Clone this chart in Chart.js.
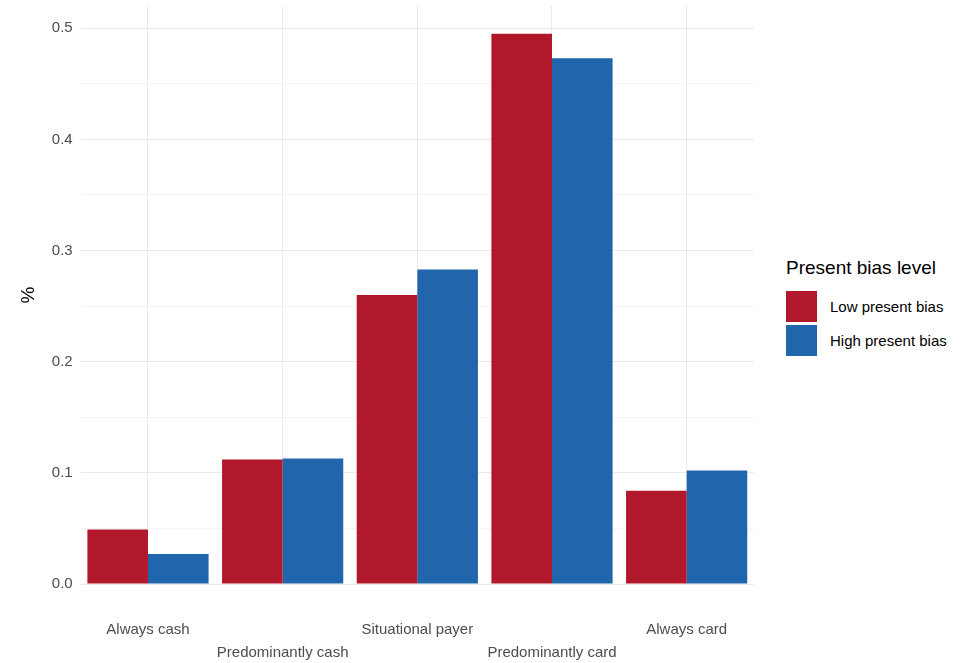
<!DOCTYPE html>
<html>
<head>
<meta charset="utf-8">
<script src="https://cdn.jsdelivr.net/npm/chart.js@4"></script>
<style>
  body { margin: 0; background: #fff; font-family: "Liberation Sans", Arial, sans-serif; overflow: hidden; }
  #wrap { position: relative; width: 961px; height: 663px; overflow: hidden; }
  #box { position: absolute; left: 0; top: -11px; width: 768px; height: 716px; }
  #legend { position: absolute; left: 786px; top: 257px; color: #000; }
  #legend h4 { margin: 0 0 10px 0; font-weight: normal; font-size: 19px; }
  .item { display: flex; align-items: center; height: 34px; font-size: 15px; }
  .sw { width: 31px; height: 31px; margin-right: 13px; }
</style>
</head>
<body>
<div id="wrap">
  <div id="box"><canvas id="c"></canvas></div>
  <div id="legend"></div>
</div>
<script>
// categories, staggered labels like ggplot's n.dodge = 2
const categories = ['Always cash', 'Predominantly cash', 'Situational payer', 'Predominantly card', 'Always card'];
const seriesNames = ['Low present bias', 'High present bias'];
const lowBias  = [0.049, 0.112, 0.260, 0.495, 0.084];
const highBias = [0.027, 0.113, 0.283, 0.473, 0.102];
const colors = ['#B2182B', '#2166AC'];

const labels = categories.map((c, i) => i % 2 === 0 ? [c, ''] : ['', c]);

// legend
const lg = document.getElementById('legend');
lg.innerHTML = '<h4>Present bias level</h4>' + seriesNames.map((n, i) =>
  `<div class="item"><div class="sw" style="background:${colors[i]}"></div>${n}</div>`).join('');

new Chart(document.getElementById('c'), {
  type: 'bar',
  data: {
    labels: labels,
    datasets: [
      { label: seriesNames[0], data: lowBias, backgroundColor: colors[0] },
      { label: seriesNames[1], data: highBias, backgroundColor: colors[1] }
    ]
  },
  options: {
    responsive: true,
    maintainAspectRatio: false,
    animation: false,
    datasets: { bar: { categoryPercentage: 0.9, barPercentage: 1 } },
    layout: { padding: { top: 5, right: 14, bottom: 6, left: 13 } },
    plugins: { legend: { display: false }, tooltip: { enabled: false } },
    scales: {
      x: {
        grid: { offset: false, color: '#ebebeb', drawTicks: false },
        border: { display: false },
        ticks: { color: '#4d4d4d', font: { size: 15, lineHeight: 1.5 }, maxRotation: 0, autoSkip: false, padding: 35 }
      },
      y: {
        min: 0, max: 0.52,
        grid: {
          color: (ctx) => Math.round(ctx.tick.value * 100) % 10 === 0 ? '#ebebeb' : '#f4f4f4',
          drawTicks: false
        },
        border: { display: false },
        afterBuildTicks: (ax) => {
          const t = [];
          for (let i = 0; i <= 10; i++) t.push({ value: i * 0.05 });
          ax.ticks = t;
        },
        ticks: {
          color: '#4d4d4d', font: { size: 15 }, padding: 8,
          callback: (v) => Math.round(v * 100) % 10 === 0 ? v.toFixed(1) : ''
        },
        title: { display: true, text: '%', color: '#000', font: { size: 19 } }
      }
    }
  }
});
</script>
</body>
</html>
